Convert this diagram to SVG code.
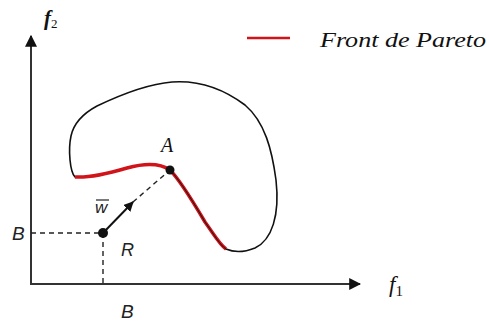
<svg xmlns="http://www.w3.org/2000/svg" width="489" height="323" viewBox="0 0 489 323">
<style>
.t{font-family:"Liberation Serif",serif;font-style:italic;fill:#111}
.s{font-family:"Liberation Sans",sans-serif;font-style:italic;fill:#222}
.ax{stroke:#333;stroke-width:2;fill:none}
.d{stroke:#222;stroke-width:1.4;stroke-dasharray:5,4;fill:none}
.red{fill:none;stroke:#d0141a;stroke-width:3.5}
.edge{fill:none;stroke:#111;stroke-width:1.6}
</style>
<defs>
<marker id="ah" viewBox="0 0 10 10" refX="9" refY="5" markerWidth="6" markerHeight="6" orient="auto"><path d="M0,0L10,5L0,10z" fill="#111"/></marker>
<marker id="ah2" viewBox="0 0 10 10" refX="9" refY="5" markerWidth="5" markerHeight="5" orient="auto"><path d="M0,0L10,5L0,10z" fill="#111"/></marker>
</defs>
<g id="axes">
<line class="ax" x1="31" y1="284" x2="31" y2="36" marker-end="url(#ah)"/>
<line class="ax" x1="30" y1="284" x2="360" y2="284" marker-end="url(#ah)"/>
<text class="t" x="44" y="25" font-size="21" font-weight="bold">f<tspan font-style="normal" font-weight="normal" font-size="13" dy="3">2</tspan></text>
<text class="t" x="389" y="292" font-size="23">f<tspan font-style="normal" font-size="15" dy="4">1</tspan></text>
</g>
<g id="legend">
<line x1="247" y1="38" x2="290" y2="38" stroke="#d0141a" stroke-width="2.5"/>
<text class="t" x="320" y="47" font-size="22" textLength="166" lengthAdjust="spacingAndGlyphs">Front de Pareto</text>
</g>
<g id="region">
<path class="edge" d="M170,170 C160,163 145,163 127,168 C110,173 90,178 75,177 C70,172 68,150 71,136 C74,122 84,113 97,106 C120,95 148,84 172,82 C200,80 225,90 245,105 C265,122 272,150 276,180 C280,215 272,240 255,248 C245,252 235,253 226,249 C220,245 215,236 205,222 C195,205 180,180 170,170 Z"/>
<path class="red" stroke-width="3" d="M170,170 C160,163 145,163 127,168 C110,173 90,178 75,177"/>
<path class="red" d="M226,249 C220,245 215,236 205,222 C195,205 180,180 170,170"/>
<path fill="none" stroke="#111" stroke-width="1" d="M226,249 C220,245 215,236 205,222 C195,205 180,180 170,170"/>
</g>
<g id="connectors">
<line class="d" x1="31" y1="233" x2="103" y2="233"/>
<line class="d" x1="103" y1="233" x2="103" y2="284"/>
<line class="d" x1="133" y1="202" x2="170" y2="170"/>
<line x1="103" y1="233" x2="133" y2="202" stroke="#111" stroke-width="2" marker-end="url(#ah2)"/>
</g>
<g id="nodeA">
<circle cx="170" cy="170" r="4.5" fill="#111"/>
<text class="t" x="161" y="152" font-size="20">A</text>
</g>
<g id="nodeR">
<circle cx="103" cy="233" r="5" fill="#111"/>
<text class="s" x="121" y="256" font-size="18">R</text>
<text class="s" x="12" y="240" font-size="19">B</text>
<text class="s" x="121" y="318" font-size="19">B</text>
<text class="s" x="95" y="213" font-size="17">w</text>
<line x1="96" y1="200" x2="109" y2="200" stroke="#222" stroke-width="1.2"/>
</g>
</svg>
